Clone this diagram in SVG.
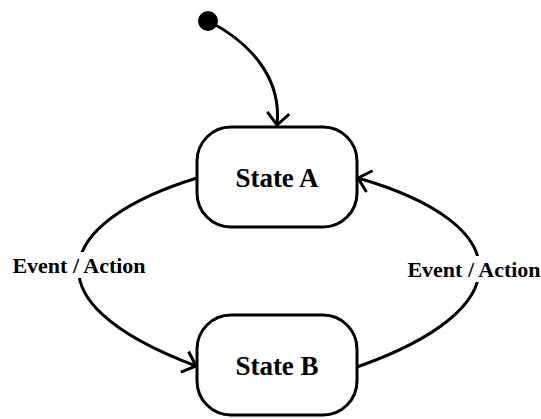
<svg xmlns="http://www.w3.org/2000/svg" width="541" height="419" viewBox="0 0 541 419">
  <defs>
    <marker id="open-arrow" markerUnits="userSpaceOnUse" markerWidth="30" markerHeight="30" refX="0" refY="0" orient="auto" overflow="visible">
      <path d="M-12,-11 L0,0 L-12,11" fill="none" stroke="#000" stroke-width="3" stroke-linejoin="miter"/>
    </marker>
  </defs>
  <style>
    .state rect { fill: #fff; stroke: #000; stroke-width: 3; }
    .state text { font-family: "Liberation Serif", "Times New Roman", serif; font-weight: bold; font-size: 27px; text-anchor: middle; fill: #000; }
    .edge { fill: none; stroke: #000; stroke-width: 3; }
    .label { font-family: "Liberation Serif", "Times New Roman", serif; font-weight: bold; font-size: 22px; text-anchor: middle; fill: #000; }
    .label-bg { fill: #fff; }
  </style>

  <!-- transitions -->
  <g id="connectors">
    <path class="edge" d="M208,21 C250,42 282,78 277,125" marker-end="url(#open-arrow)"/>
    <path class="edge" d="M197,178 C60,220 20,300 196,366" marker-end="url(#open-arrow)"/>
    <path class="edge" d="M357,367 C520,310 520,225 358,178" marker-end="url(#open-arrow)"/>
    <rect class="label-bg" x="60" y="252" width="40" height="26"/>
    <text class="label" x="79" y="273">Event / Action</text>
    <rect class="label-bg" x="450" y="256" width="40" height="26"/>
    <text class="label" x="474" y="277">Event / Action</text>
  </g>

  <!-- initial pseudo-state -->
  <g id="initial">
    <circle cx="208" cy="21" r="10" fill="#000"/>
  </g>

  <g id="state-a" class="state">
    <rect x="197" y="127" width="160" height="100" rx="34" ry="34"/>
    <text x="277" y="187">State A</text>
  </g>

  <g id="state-b" class="state">
    <rect x="197" y="315" width="160" height="100" rx="34" ry="34"/>
    <text x="277" y="375">State B</text>
  </g>
</svg>
